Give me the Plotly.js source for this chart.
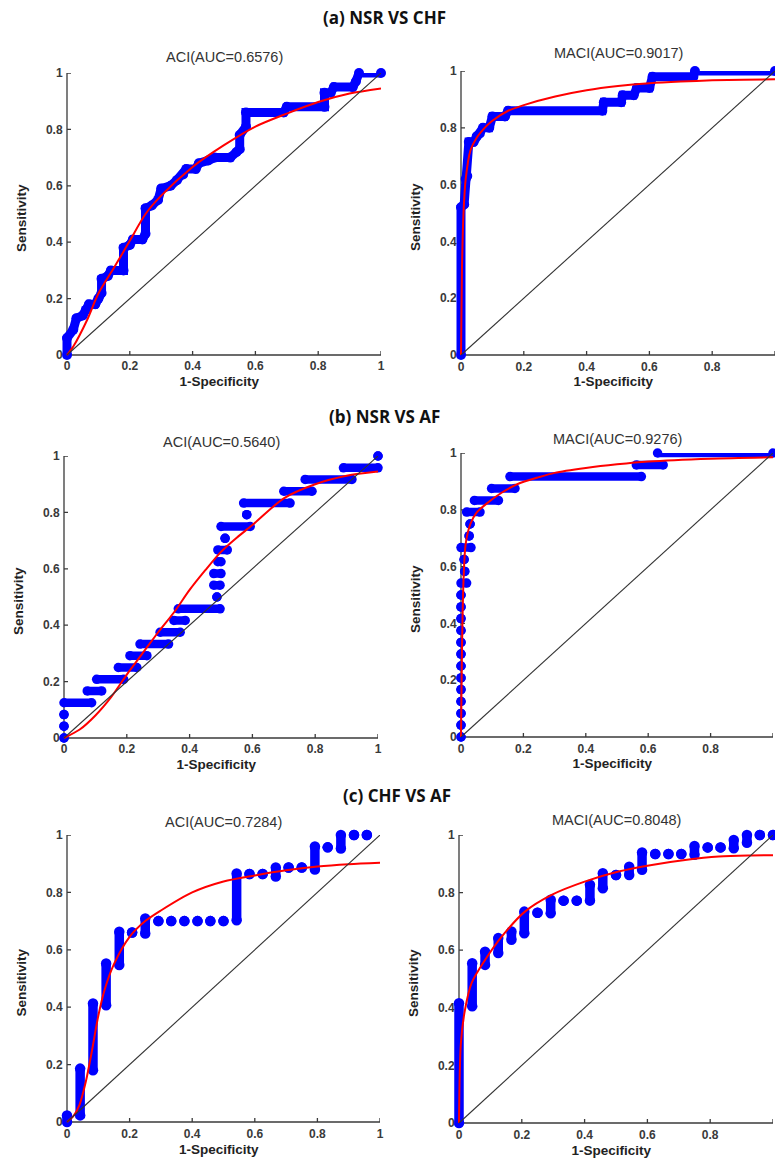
<!DOCTYPE html>
<html>
<head>
<meta charset="utf-8">
<script src="https://cdn.plot.ly/plotly-3.0.1.min.js"></script>
<style>
  html, body { margin: 0; padding: 0; background: #ffffff; }
  #chart { width: 775px; height: 1162px; }
</style>
</head>
<body>
<div id="chart"></div>
<script>
// ---------- text ----------
const sectionTitles = ['(a) NSR VS CHF', '(b) NSR VS AF', '(c) CHF VS AF'];
const panelTitles = ['ACI(AUC=0.6576)', 'MACI(AUC=0.9017)', 'ACI(AUC=0.5640)', 'MACI(AUC=0.9276)', 'ACI(AUC=0.7284)', 'MACI(AUC=0.8048)'];
const xTitle = '1-Specificity';
const yTitle = 'Sensitivity';
const tickVals = [0, 0.2, 0.4, 0.6, 0.8, 1];
const tickText = ['0', '0.2', '0.4', '0.6', '0.8', '1'];
const diagX = [0, 1];
const diagY = [0, 1];

// ---------- (a) NSR vs CHF : ROC staircase vertices ----------
const aAciRocX = [0,0,0.02,0.03,0.05,0.06,0.07,0.09,0.10,0.11,0.11,0.13,0.14,0.18,0.18,0.20,0.21,0.24,0.25,0.25,0.27,0.29,0.30,0.33,0.35,0.37,0.38,0.41,0.42,0.45,0.47,0.52,0.54,0.55,0.55,0.57,0.57,0.69,0.70,0.82,0.82,0.84,0.85,0.91,0.92,0.93,1.0];
const aAciRocY = [0,0.06,0.09,0.13,0.14,0.16,0.18,0.18,0.20,0.22,0.27,0.28,0.30,0.30,0.38,0.39,0.41,0.41,0.43,0.52,0.53,0.55,0.59,0.60,0.62,0.64,0.66,0.66,0.68,0.69,0.70,0.70,0.72,0.73,0.78,0.81,0.86,0.86,0.88,0.88,0.93,0.93,0.95,0.95,0.97,1.0,1.0];
const aAciFitX = [0,0.02,0.064,0.1,0.15,0.2,0.25,0.3,0.4,0.5,0.6,0.7,0.8,0.9,1];
const aAciFitY = [0,0.03,0.124,0.218,0.31,0.405,0.50,0.565,0.667,0.744,0.81,0.856,0.897,0.927,0.945];

const aMaciRocX = [0,0,0.01,0.015,0.02,0.025,0.04,0.05,0.06,0.07,0.09,0.10,0.14,0.15,0.45,0.455,0.51,0.515,0.55,0.56,0.60,0.61,0.74,0.745,1.0];
const aMaciRocY = [0,0.52,0.53,0.62,0.63,0.75,0.75,0.77,0.78,0.80,0.80,0.84,0.84,0.86,0.86,0.89,0.89,0.915,0.915,0.94,0.94,0.98,0.98,1.0,1.0];
const aMaciFitX = [0,0.003,0.008,0.015,0.03,0.05,0.08,0.1,0.15,0.2,0.3,0.4,0.5,0.6,0.7,0.8,0.9,1];
const aMaciFitY = [0,0.3,0.5,0.62,0.72,0.765,0.805,0.825,0.86,0.88,0.91,0.932,0.947,0.957,0.963,0.967,0.969,0.971];

// ---------- (b) NSR vs AF : horizontal runs of points (start x, end x, sensitivity) ----------
const bAciRunX0 = [0,0,0,0,0.074,0.104,0.173,0.21,0.242,0.306,0.35,0.364,0.487,0.477,0.477,0.49,0.49,0.513,0.50,0.582,0.572,0.70,0.768,0.89,1.0];
const bAciRunX1 = [0,0,0,0.088,0.12,0.19,0.232,0.264,0.333,0.37,0.386,0.497,0.487,0.497,0.50,0.50,0.52,0.513,0.593,0.582,0.72,0.79,0.917,1.0,1.0];
const bAciRunY  = [0,0.042,0.083,0.125,0.167,0.208,0.25,0.292,0.333,0.375,0.417,0.458,0.5,0.542,0.583,0.625,0.667,0.708,0.75,0.792,0.833,0.875,0.917,0.958,1.0];
const bAciFitX = [0,0.05,0.1,0.15,0.2,0.25,0.3,0.35,0.4,0.45,0.5,0.55,0.6,0.7,0.8,0.9,1];
const bAciFitY = [0,0.03,0.08,0.145,0.225,0.30,0.375,0.445,0.525,0.595,0.66,0.71,0.755,0.85,0.90,0.93,0.945];

const bMaciRunX0 = [0,0,0,0,0,0,0,0,0,0,0,0,0,0,0.012,0.01,0,0.026,0.029,0.018,0.043,0.098,0.157,0.562,0.63];
const bMaciRunX1 = [0,0,0,0,0,0,0,0,0,0,0,0,0,0.018,0.012,0.01,0.032,0.026,0.029,0.061,0.12,0.173,0.578,0.648,1.0];
const bMaciRunY  = [0,0.042,0.083,0.125,0.167,0.208,0.25,0.292,0.333,0.375,0.417,0.458,0.5,0.542,0.583,0.625,0.667,0.708,0.75,0.792,0.833,0.875,0.917,0.958,1.0];
const bMaciFitX = [0,0.003,0.008,0.015,0.03,0.05,0.08,0.13,0.18,0.25,0.3,0.4,0.5,0.6,0.8,1];
const bMaciFitY = [0,0.3,0.55,0.68,0.75,0.79,0.82,0.86,0.89,0.915,0.93,0.947,0.96,0.97,0.98,0.985];

// ---------- (c) CHF vs AF : vertical columns of points (1-specificity, start y, end y) ----------
const cAciColX  = [0,0.042,0.083,0.125,0.167,0.208,0.25,0.292,0.333,0.375,0.417,0.458,0.5,0.542,0.583,0.625,0.667,0.708,0.75,0.792,0.833,0.875,0.917,0.958];
const cAciColY0 = [0,0.023,0.18,0.407,0.547,0.66,0.657,0.70,0.70,0.70,0.70,0.70,0.70,0.703,0.864,0.864,0.855,0.887,0.887,0.88,0.957,0.953,1.0,1.0];
const cAciColY1 = [0.023,0.186,0.413,0.552,0.663,0.66,0.709,0.70,0.70,0.70,0.70,0.70,0.70,0.866,0.864,0.864,0.887,0.887,0.887,0.96,0.957,1.0,1.0,1.0];
const cAciFitX = [0,0.02,0.04,0.06,0.08,0.1,0.12,0.15,0.2,0.25,0.3,0.4,0.5,0.6,0.7,0.8,0.9,1];
const cAciFitY = [0,0.02,0.06,0.14,0.25,0.37,0.46,0.55,0.645,0.70,0.737,0.80,0.838,0.859,0.877,0.89,0.898,0.903];

const cMaciColX  = [0,0.042,0.083,0.125,0.167,0.208,0.25,0.292,0.333,0.375,0.417,0.458,0.5,0.542,0.583,0.625,0.667,0.708,0.75,0.792,0.833,0.875,0.917,0.958,1.0];
const cMaciColY0 = [0,0.405,0.549,0.59,0.636,0.659,0.73,0.728,0.772,0.772,0.772,0.815,0.861,0.861,0.879,0.934,0.934,0.934,0.931,0.957,0.957,0.954,0.973,1.0,1.0];
const cMaciColY1 = [0.416,0.555,0.595,0.642,0.665,0.734,0.73,0.775,0.772,0.772,0.827,0.867,0.861,0.89,0.939,0.934,0.934,0.934,0.962,0.957,0.957,0.983,1.0,1.0,1.0];
const cMaciFitX = [0,0.006,0.019,0.04,0.083,0.136,0.21,0.295,0.4,0.508,0.614,0.72,0.827,0.92,1];
const cMaciFitY = [0,0.277,0.393,0.486,0.566,0.647,0.734,0.792,0.838,0.873,0.896,0.913,0.925,0.929,0.93];

// ---------- build null-separated segment lists ----------
function hRuns(x0, x1, y) {
  const X = [], Y = [];
  for (let i = 0; i < y.length; i++) { X.push(x0[i], x1[i], null); Y.push(y[i], y[i], null); }
  return {X, Y};
}
function vCols(x, y0, y1) {
  const X = [], Y = [];
  for (let i = 0; i < x.length; i++) { X.push(x[i], x[i], null); Y.push(y0[i], y1[i], null); }
  return {X, Y};
}
const bAci = hRuns(bAciRunX0, bAciRunX1, bAciRunY);
const bMaci = hRuns(bMaciRunX0, bMaciRunX1, bMaciRunY);
const cAci = vCols(cAciColX, cAciColY0, cAciColY1);
const cMaci = vCols(cMaciColX, cMaciColY0, cMaciColY1);

const rocData = [
  {X: aAciRocX, Y: aAciRocY, fx: aAciFitX, fy: aAciFitY},
  {X: aMaciRocX, Y: aMaciRocY, fx: aMaciFitX, fy: aMaciFitY},
  {X: bAci.X, Y: bAci.Y, fx: bAciFitX, fy: bAciFitY},
  {X: bMaci.X, Y: bMaci.Y, fx: bMaciFitX, fy: bMaciFitY},
  {X: cAci.X, Y: cAci.Y, fx: cAciFitX, fy: cAciFitY},
  {X: cMaci.X, Y: cMaci.Y, fx: cMaciFitX, fy: cMaciFitY}
];

// ---------- layout geometry (pixels of the 0..1 axis box) ----------
const W = 775, H = 1162;
const PAD = 0.03;   // extra room left of 0 and below 0 so dots on the axes are not cut
const geo = [
  {l: 67,  r: 381, t: 73,  b: 355,  tt: 57,  ms: 10},
  {l: 461, r: 775, t: 71,  b: 355,  tt: 53,  ms: 10},
  {l: 64,  r: 378, t: 456, b: 738,  tt: 442, ms: 9.5},
  {l: 461, r: 773, t: 453, b: 737,  tt: 439, ms: 9.5},
  {l: 67,  r: 380, t: 835, b: 1122, tt: 822, ms: 10.5},
  {l: 459, r: 773, t: 835, b: 1123, tt: 820, ms: 10.5}
];
const sectionPos = [{x: 384, y: 18}, {x: 384, y: 416}, {x: 397, y: 795}];

const axisColor = '#3a3a3a';
const fontFam = 'Liberation Sans, Arial, sans-serif';
const traces = [];
const shapes = [];
const layout = {
  width: W, height: H,
  margin: {l: 0, r: 0, t: 0, b: 0, pad: 0},
  paper_bgcolor: '#ffffff', plot_bgcolor: '#ffffff',
  showlegend: false,
  annotations: [],
  shapes: shapes
};

geo.forEach((g, i) => {
  const n = i + 1;
  const xa = n === 1 ? 'x' : 'x' + n;
  const ya = n === 1 ? 'y' : 'y' + n;
  const d = rocData[i];
  traces.push({
    x: d.X, y: d.Y, xaxis: xa, yaxis: ya, type: 'scatter', mode: 'lines+markers',
    line: {color: '#0000ff', width: g.ms - 1}, marker: {color: '#0000ff', size: g.ms},
    connectgaps: false, cliponaxis: false, hoverinfo: 'skip'
  });
  traces.push({
    x: d.fx, y: d.fy, xaxis: xa, yaxis: ya, type: 'scatter', mode: 'lines',
    line: {color: '#ff0000', width: 2, shape: 'spline', smoothing: 0.8},
    hoverinfo: 'skip'
  });
  traces.push({
    x: diagX, y: diagY, xaxis: xa, yaxis: ya, type: 'scatter', mode: 'lines',
    line: {color: '#333333', width: 1.1}, hoverinfo: 'skip'
  });

  const wpx = g.r - g.l, hpx = g.b - g.t;
  const common = {
    showgrid: false, zeroline: false, showline: false, ticks: '',
    tickmode: 'array', tickvals: tickVals, ticktext: tickText,
    tickfont: {family: fontFam, size: 12, color: '#3a3a3a', weight: 'bold'},
    fixedrange: true
  };
  layout['xaxis' + (n === 1 ? '' : n)] = Object.assign({}, common, {
    range: [-PAD, 1], anchor: ya,
    domain: [(g.l - PAD * wpx) / W, g.r / W],
    ticklabelstandoff: -6,
    title: {text: xTitle, font: {family: fontFam, size: 13.5, color: '#222222', weight: 'bold'}, standoff: 4}
  });
  layout['yaxis' + (n === 1 ? '' : n)] = Object.assign({}, common, {
    range: [-PAD, 1], anchor: xa,
    domain: [1 - (g.b + PAD * hpx) / H, 1 - g.t / H],
    ticklabelstandoff: -6,
    title: {text: yTitle, font: {family: fontFam, size: 13.5, color: '#222222', weight: 'bold'}, standoff: 16}
  });

  // axis lines at 0 (MATLAB style: left and bottom only) and inward ticks, placed through the axes
  const lineStyle = {color: axisColor, width: 1.3};
  shapes.push({type: 'line', xref: xa, yref: ya, x0: 0, x1: 1, y0: 0, y1: 0, line: lineStyle, layer: 'below'});
  shapes.push({type: 'line', xref: xa, yref: ya, x0: 0, x1: 0, y0: 0, y1: 1, line: lineStyle, layer: 'below'});
  tickVals.forEach(v => {
    shapes.push({type: 'line', xref: xa, yref: ya, xsizemode: 'scaled', ysizemode: 'pixel', yanchor: 0,
      x0: v, x1: v, y0: 0, y1: 4, line: lineStyle, layer: 'below'});
    shapes.push({type: 'line', xref: xa, yref: ya, xsizemode: 'pixel', xanchor: 0, ysizemode: 'scaled',
      x0: 0, x1: 4, y0: v, y1: v, line: lineStyle, layer: 'below'});
  });

  layout.annotations.push({
    text: panelTitles[i], xref: 'paper', yref: 'paper',
    x: (g.l + g.r) / 2 / W, y: 1 - g.tt / H, xanchor: 'center', yanchor: 'middle',
    showarrow: false, font: {family: fontFam, size: 14.5, color: '#333333'}
  });
});

sectionTitles.forEach((s, i) => {
  layout.annotations.push({
    text: s, xref: 'paper', yref: 'paper',
    x: sectionPos[i].x / W, y: 1 - sectionPos[i].y / H, xanchor: 'center', yanchor: 'middle',
    showarrow: false, font: {family: 'Open Sans, sans-serif', size: 17, color: '#111111', weight: 'bold'}
  });
});

Plotly.newPlot('chart', traces, layout, {displayModeBar: false, staticPlot: true});
</script>
</body>
</html>
